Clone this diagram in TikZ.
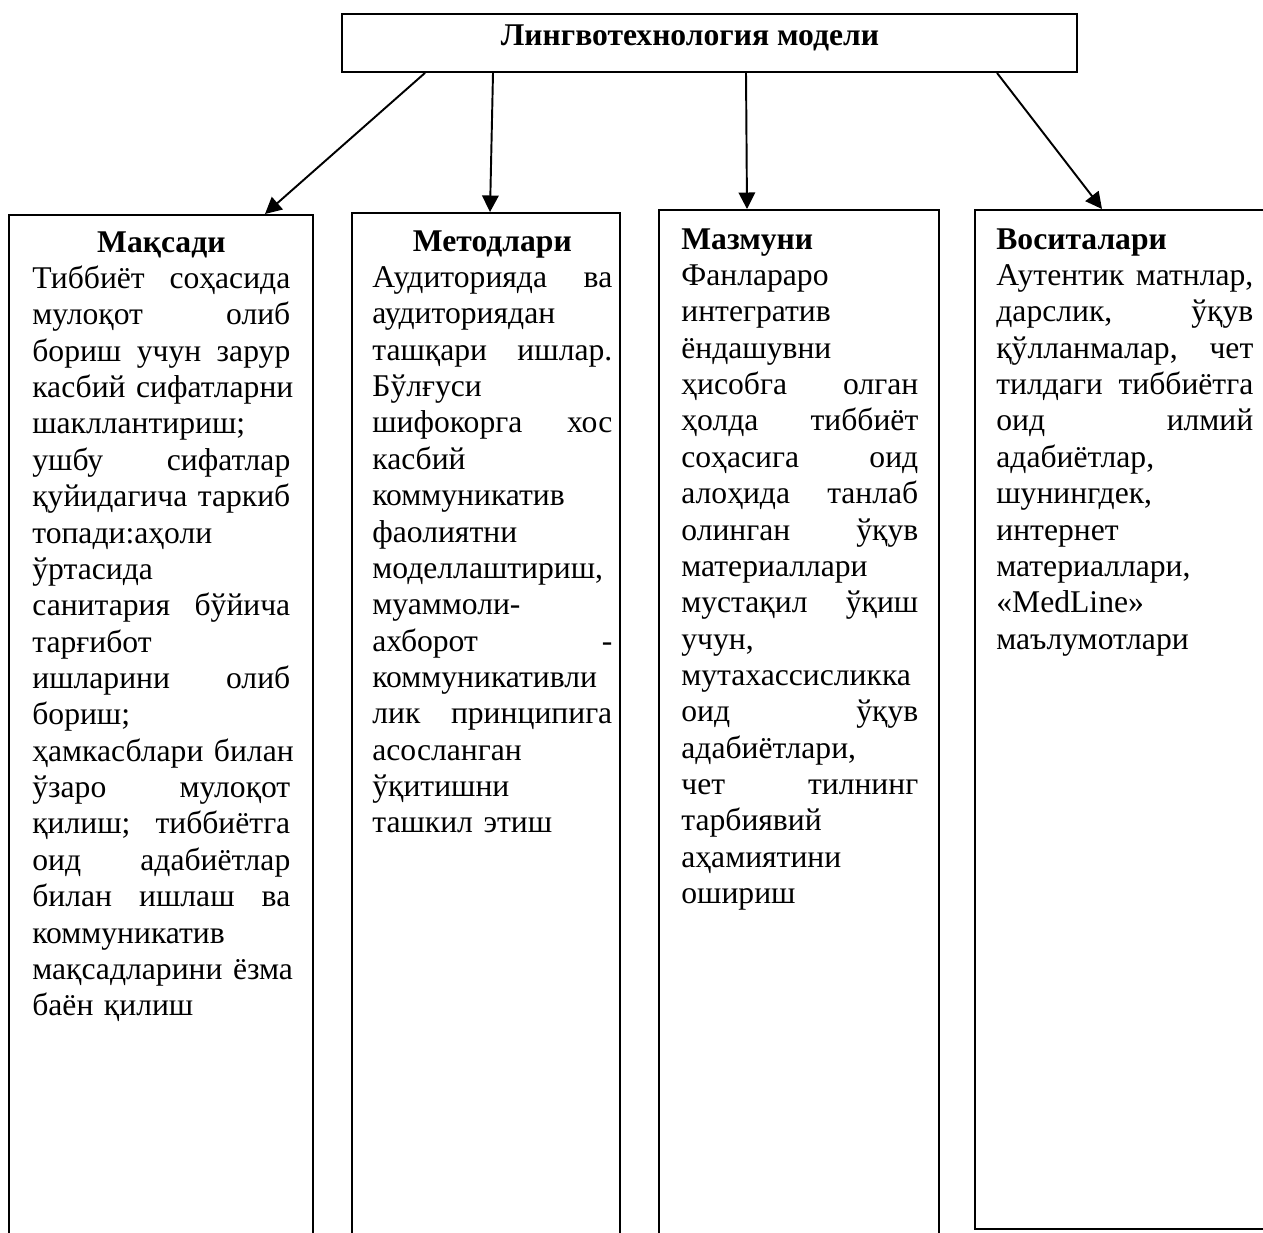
\documentclass[tikz,border=0pt]{standalone}
\usepackage{fontspec}
\setmainfont{Liberation Serif}
\usetikzlibrary{arrows.meta,calc}

\tikzset{
  box/.style={draw, line width=1.1pt, rectangle, anchor=north west, inner sep=0pt},
  coltext/.style={anchor=north west, inner sep=0pt, align=left,
    font=\fontsize{18pt}{20.7pt}\selectfont},
  arr/.style={line width=1.1pt, -{Triangle[length=3.3mm,width=3.3mm]}},
}
% stretchable gap for justified lines
\newcommand\js{\nobreak\hfill\nobreak\ }
\newcommand\ctitle[1]{\null\hfill\textbf{#1}\hfill\null\\}

\begin{document}
\begin{tikzpicture}[x=0.02cm,y=-0.02cm]
\useasboundingbox[fill=white] (0,0) rectangle (1263,1232);

	% top box
	\node[box, minimum width=14.7cm, minimum height=1.16cm] (model) at (341,13) {};
	\node[anchor=base, inner sep=0pt, font=\fontsize{18pt}{20.7pt}\selectfont\bfseries] (modeltitle) at (690,45) {Лингвотехнология модели};

	% four columns
	\node[box, minimum width=6.08cm, minimum height=20.7cm] (goal) at (8,214) {};
	\node[box, minimum width=5.36cm, minimum height=20.7cm] (methods) at (351,212) {};
	\node[box, minimum width=5.6cm, minimum height=20.8cm] (content) at (658,209) {};
	\node[box, minimum width=5.9cm, minimum height=20.38cm] (tools) at (974,209) {};

	\draw[arr] ($(model.south west)+(84,0)$) -- ($(goal.north west)+(257,0)$);
	\draw[arr] ($(model.south west)+(152,0)$) -- ($(methods.north west)+(139,0)$);
	\draw[arr] ($(model.south west)+(405,0)$) -- ($(content.north west)+(89,0)$);
	\draw[arr] ($(model.south west)+(656,0)$) -- ($(tools.north west)+(128,0)$);

	\node[coltext, text width=5.16cm] (goaltext) at (32,231) {\ctitle{Мақсади}
Тиббиёт\js соҳасида\\
мулоқот\js олиб\\
бориш\js учун\js зарур\\
касбий\js сифатларни\\
шакллантириш;\\
ушбу\js сифатлар\\
қуйидагича\js таркиб\\
топади:аҳоли\\
ўртасида\\
санитария\js бўйича\\
тарғибот\\
ишларини\js олиб\\
бориш;\\
ҳамкасблари\js билан\\
ўзаро\js мулоқот\\
қилиш;\js тиббиётга\\
оид\js адабиётлар\\
билан\js ишлаш\js ва\\
коммуникатив\\
мақсадларини\js ёзма\\
баён қилиш};

	\node[coltext, text width=4.8cm] (methodstext) at (372,230) {\ctitle{Методлари}
Аудиторияда\js ва\\
аудиториядан\\
ташқари\js ишлар.\\
Бўлғуси\\
шифокорга\js хос\\
касбий\\
коммуникатив\\
фаолиятни\\
моделлаштириш,\\
муаммоли-\\
ахборот\js -\\
коммуникативли\\
лик\js принципига\\
асосланган\\
ўқитишни\\
ташкил этиш};

	\node[coltext, text width=4.74cm] (contenttext) at (681,228) {\textbf{Мазмуни}\\
Фанлараро\\
интегратив\\
ёндашувни\\
ҳисобга\js олган\\
ҳолда\js тиббиёт\\
соҳасига\js оид\\
алоҳида\js танлаб\\
олинган\js ўқув\\
материаллари\\
мустақил\js ўқиш\\
учун,\\
мутахассисликка\\
оид\js ўқув\\
адабиётлари,\\
чет\js тилнинг\\
тарбиявий\\
аҳамиятини\\
ошириш};

	\node[coltext, text width=5.14cm] (toolstext) at (996,228) {\textbf{Воситалари}\\
Аутентик\js матнлар,\\
дарслик,\js ўқув\\
қўлланмалар,\js чет\\
тилдаги\js тиббиётга\\
оид\js илмий\\
адабиётлар,\\
шунингдек,\\
интернет\\
материаллари,\\
«MedLine»\\
маълумотлари};
\end{tikzpicture}
\end{document}
